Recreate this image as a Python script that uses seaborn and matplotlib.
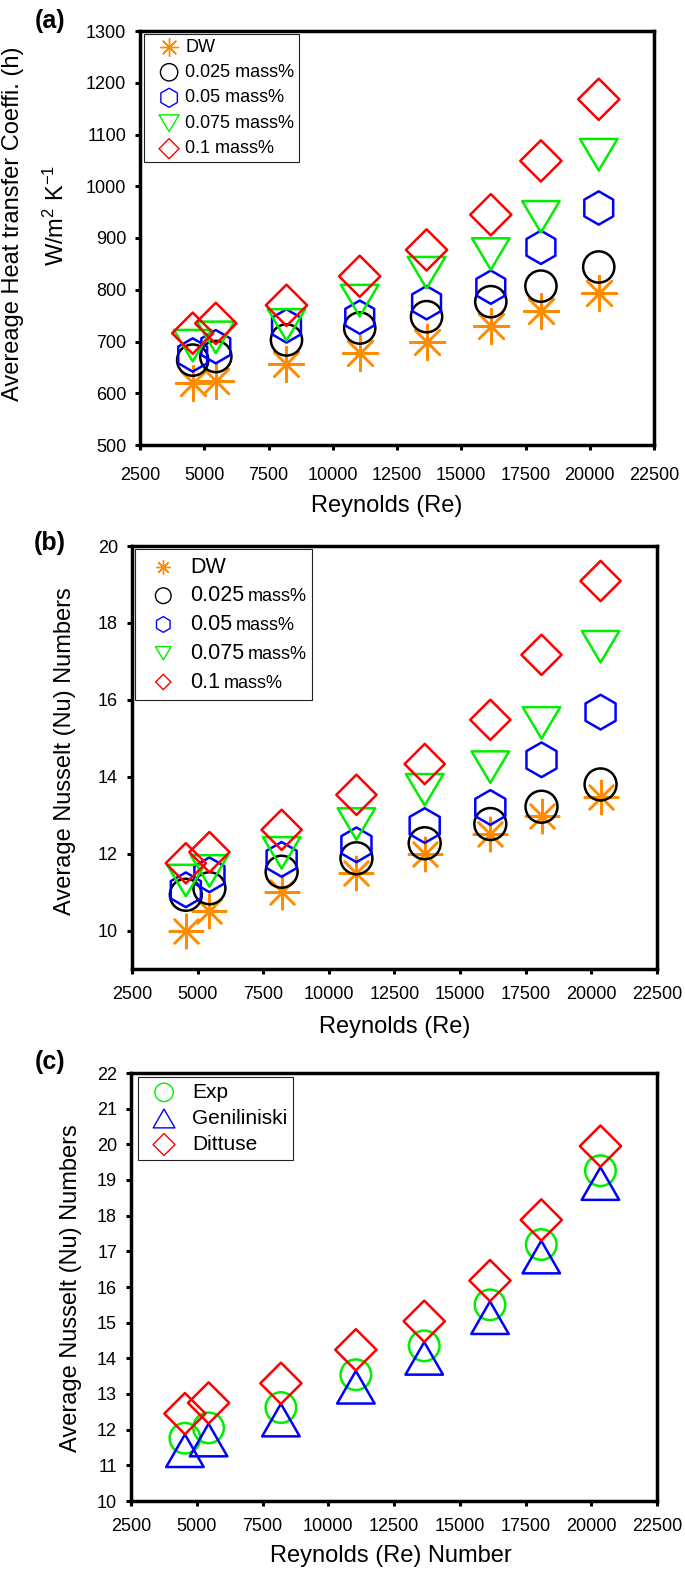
import numpy as np
import matplotlib
matplotlib.use("Agg")
import matplotlib.pyplot as plt
from matplotlib.path import Path
from matplotlib.markers import MarkerStyle
from matplotlib.patches import Rectangle
from matplotlib.font_manager import FontProperties
import seaborn as sns

# Reynolds numbers (same for all three panels)
re_nums = [4550, 5450, 8200, 11050, 13650, 16150, 18100, 20350]

# (a) average heat transfer coefficient, W/m2K
h_dw = [619, 624, 656, 677, 700, 729, 758, 793]
h_025 = [664, 671, 703, 726, 748, 777, 807, 844]
h_05 = [674, 690, 730, 747, 775, 805, 882, 958]
h_075 = [692, 708, 732, 779, 833, 869, 941, 1061]
h_10 = [716, 735, 770, 826, 877, 945, 1049, 1168]

# (b) average Nusselt numbers
nu_dw = [10.0, 10.5, 11.0, 11.5, 12.0, 12.5, 12.97, 13.48]
nu_025 = [10.93, 11.1, 11.53, 11.88, 12.27, 12.77, 13.22, 13.8]
nu_05 = [11.06, 11.45, 11.85, 12.23, 12.73, 13.2, 14.44, 15.68]
nu_075 = [11.3, 11.55, 12.02, 12.77, 13.66, 14.25, 15.4, 17.38]
nu_10 = [11.75, 12.04, 12.62, 13.53, 14.33, 15.48, 17.17, 19.09]

# (c) experiment vs correlations
nu_exp = [11.76, 12.05, 12.62, 13.54, 14.35, 15.5, 17.19, 19.26]
nu_gen = [11.41, 11.71, 12.27, 13.19, 14.0, 15.14, 16.84, 18.9]
nu_dit = [12.45, 12.75, 13.3, 14.24, 15.04, 16.18, 17.88, 19.95]

conc_labels = ["DW", "0.025 mass%", "0.05 mass%", "0.075 mass%", "0.1 mass%"]
conc_short = ["DW", "0.025", "0.05", "0.075", "0.1"]
corr_labels = ["Exp", "Geniliniski", "Dittuse"]

sns.set_theme(style="ticks")
FONT = ["Liberation Sans", "DejaVu Sans"]
plt.rcParams["font.family"] = FONT
plt.rcParams["mathtext.fontset"] = "custom"
plt.rcParams["mathtext.rm"] = "Liberation Sans"
plt.rcParams["mathtext.default"] = "regular"
for k in ["text.color", "axes.labelcolor", "xtick.color", "ytick.color", "axes.edgecolor"]:
    plt.rcParams[k] = "black"

W, H = 685, 1572
fig = plt.figure(figsize=(W / 100, H / 100), dpi=100)


def add_ax(l, t, r, b):
    return fig.add_axes([l / W, 1 - b / H, (r - l) / W, (b - t) / H])


def fig_text(x, y, s, **kw):
    return fig.text(x / W, 1 - y / H, s, **kw)


ORANGE, BLACK, BLUE, GREEN, RED = "#ff8c00", "black", "#0000ff", "#00ee00", "#ff0000"
TRI_DOWN = Path([(-1, 0.84), (1, 0.84), (0, -0.84), (-1, 0.84)], closed=True)
TRI_UP = Path([(-1, -0.87), (1, -0.87), (0, 0.87), (-1, -0.87)], closed=True)
STAR = (8, 2, 0)


def draw(ax, series):
    for vals, lab, color, marker, ms, _ in series:
        kw = dict(color=color)
        if MarkerStyle(marker).is_filled():
            # hollow outline markers
            kw.update(edgecolor=color, facecolor="none")
        sns.scatterplot(x=re_nums, y=vals, ax=ax, marker=marker, s=ms ** 2,
                        linewidth=1.8, label=lab, zorder=3, clip_on=False, **kw)


def style_axes(ax, ylim, yticks, xpad=9):
    ax.set_xlim(2500, 22500)
    ax.set_ylim(*ylim)
    ax.set_xticks(np.arange(2500, 22501, 2500))
    ax.set_yticks(yticks)
    for sp in ax.spines.values():
        sp.set_visible(True)
        sp.set_linewidth(2.5)
        sp.set_color("black")
    ax.tick_params(direction="out", length=3.5, width=2.2, labelsize=13, color="black")
    ax.tick_params(axis="x", pad=xpad)
    ax.tick_params(axis="y", pad=6.5)
    ax.set_xlabel("")
    ax.set_ylabel("")
    ax.grid(False)


def legend(ax, series, off_x, off_y, fs, spacing, pad, hl, htp, frame=True):
    bb = ax.get_position()
    axw, axh = bb.width * W, bb.height * H
    leg = ax.legend(loc="upper left", bbox_to_anchor=(off_x / axw, 1 - off_y / axh),
                    borderaxespad=0, fontsize=fs, labelspacing=spacing, borderpad=pad,
                    handlelength=hl, handletextpad=htp,
                    scatterpoints=1, frameon=frame, fancybox=False, framealpha=1,
                    edgecolor="#222222")
    leg.get_frame().set_linewidth(0.8)
    for h, s in zip(leg.legend_handles, series):
        h.set_sizes([s[5] ** 2])
        h.set_linewidth(1.0)
    return leg


# ---------------- (a) ----------------
ax_a = add_ax(140, 31, 654, 445)
series_a = [
    (h_dw, conc_labels[0], ORANGE, STAR, 25, 13),
    (h_025, conc_labels[1], BLACK, "o", 22.5, 12.5),
    (h_05, conc_labels[2], BLUE, "h", 24, 13.7),
    (h_075, conc_labels[3], GREEN, TRI_DOWN, 27, 14.4),
    (h_10, conc_labels[4], RED, "D", 21, 10.2),
]
draw(ax_a, series_a)
style_axes(ax_a, (500, 1300), np.arange(500, 1301, 100), xpad=12.5)
legend(ax_a, series_a, 4, 3, 13, 0.47, 0.25, 2.28, -0.25)
fig_text(13, 224, "Avereage Heat transfer Coeffi. (h)", fontsize=17,
         rotation=90, ha="center", va="center")
fig_text(56, 215, "W/m$^2$ K$^{-1}$", fontsize=17, rotation=90, ha="center", va="center")
fig_text(387, 506, "Reynolds (Re)", fontsize=17, ha="center", va="center")
fig_text(50, 21, "(a)", fontsize=18, fontweight="bold", ha="center", va="center")

# ---------------- (b) ----------------
ax_b = add_ax(132, 546, 657, 969)
series_b = [
    (nu_dw, conc_short[0], ORANGE, STAR, 24, 10),
    (nu_025, conc_short[1], BLACK, "o", 23, 11.3),
    (nu_05, conc_short[2], BLUE, "h", 25, 11.3),
    (nu_075, conc_short[3], GREEN, TRI_DOWN, 27, 11.3),
    (nu_10, conc_short[4], RED, "D", 20.5, 7.8),
]
draw(ax_b, series_b)
style_axes(ax_b, (9, 20), np.arange(10, 21, 2))
leg_b = legend(ax_b, series_b, 3.3, 3.3, 15.5, 0.36, 0.34, 1.92, 0.28, frame=False)
fig_text(65, 751, "Average Nusselt (Nu) Numbers", fontsize=17,
         rotation=90, ha="center", va="center")
fig_text(395, 1027, "Reynolds (Re)", fontsize=17, ha="center", va="center")
fig_text(50, 543, "(b)", fontsize=18, fontweight="bold", ha="center", va="center")

# ---------------- (c) ----------------
ax_c = add_ax(131, 1073, 657, 1501)
series_c = [
    (nu_exp, corr_labels[0], GREEN, "o", 22, 13.2),
    (nu_gen, corr_labels[1], BLUE, TRI_UP, 27, 15.6),
    (nu_dit, corr_labels[2], RED, "D", 21, 11.2),
]
draw(ax_c, series_c)
style_axes(ax_c, (10, 22), np.arange(10, 23, 1))
legend(ax_c, series_c, 7, 4, 15, 0.34, 0.28, 1.94, 0.37)
fig_text(71, 1288, "Average Nusselt (Nu) Numbers", fontsize=17,
         rotation=90, ha="center", va="center")
fig_text(391, 1556, "Reynolds (Re) Number", fontsize=17, ha="center", va="center")
fig_text(50, 1062, "(c)", fontsize=18, fontweight="bold", ha="center", va="center")

# (b) legend: small "mass%" after the number, frame drawn around everything
fig.canvas.draw()
rend = fig.canvas.get_renderer()
_, _, d_big = rend.get_text_width_height_descent("lp", FontProperties(family=FONT, size=15.5), ismath=False)
inv = fig.transFigure.inverted()
right = 0
for t in leg_b.get_texts()[1:]:
    tb = t.get_window_extent(rend)
    fx, fy = inv.transform((tb.x1 + 4, tb.y0 + d_big))
    mt = fig.text(fx, fy, "mass%", fontsize=13, ha="left", va="baseline")
    right = max(right, mt.get_window_extent(rend).x1)
lb = leg_b.get_window_extent(rend)
(x0, y0), (x1, y1) = inv.transform([(lb.x0, lb.y0), (right + 5, lb.y1)])
fig.add_artist(Rectangle((x0, y0), x1 - x0, y1 - y0, transform=fig.transFigure,
                         fill=False, edgecolor="#222222", linewidth=0.8))

fig.savefig("out.png", dpi=100)
